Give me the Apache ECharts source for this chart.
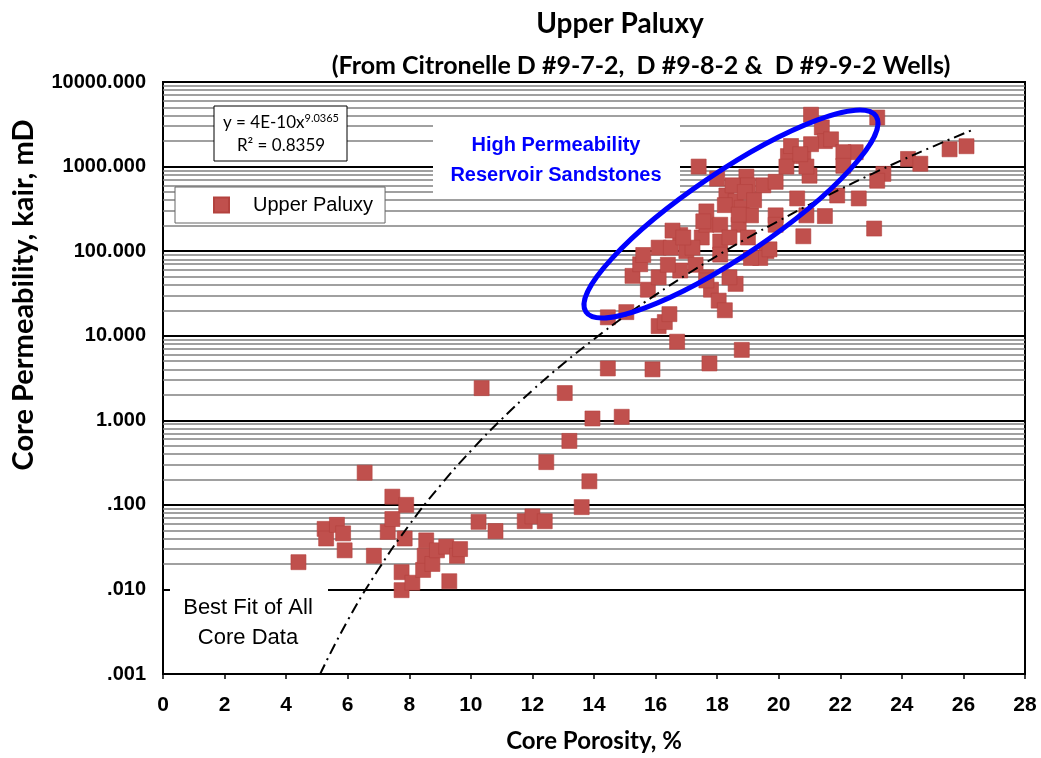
<!DOCTYPE html>
<html>
<head>
<meta charset="utf-8">
<script src="https://cdn.jsdelivr.net/npm/echarts@6/dist/echarts.min.js"></script>
<style>
html,body{margin:0;padding:0;background:#fff;}
#main{width:1041px;height:758px;}
</style>
</head>
<body>
<div id="main"></div>
<script>
// ---- data ----
const porosity = [
  4.4,5.25,5.3,5.65,5.85,5.9,6.55,6.85,7.3,7.45,7.45,7.85,7.9,7.75,7.75,8.1,8.45,8.5,8.55,8.75,
  8.9,9.2,9.3,9.55,9.65,10.25,10.8,11.75,12.0,12.4,13.6,13.85,12.45,13.2,13.95,14.9,10.35,13.05,14.45,15.9,
  17.75,18.8,
  14.45,15.05,16.1,16.3,16.45,16.7,15.25,15.75,15.5,15.6,16.1,16.1,16.8,16.8,17.0,17.5,17.3,17.65,17.8,18.05,
  18.25,17.65,18.1,18.1,18.6,16.55,17.2,16.5,16.4,18.4,17.65,16.9,
  17.4,18.0,18.95,19.0,19.5,19.9,20.3,20.8,20.25,20.6,20.9,20.8,19.9,19.9,18.3,18.6,18.8,17.65,17.55,18.1,
  18.7,19.1,18.4,19.0,19.6,19.4,21.0,21.05,23.2,21.4,21.5,21.05,20.4,21.7,22.5,22.1,22.1,20.9,20.7,24.2,
  24.6,25.55,26.1,23.4,23.2,22.6,21.9,21.5,23.1,19.7,19.1,18.5,18.9,19.2,18.25,18.7
];
const permeability = [
  0.021,0.052,0.040,0.058,0.046,0.029,0.24,0.025,0.048,0.125,0.068,0.040,0.10,0.016,0.0098,0.012,0.017,0.025,0.038,0.020,
  0.029,0.032,0.0125,0.025,0.030,0.063,0.049,0.064,0.073,0.064,0.094,0.19,0.32,0.57,1.05,1.1,2.4,2.1,4.1,4.0,
  4.7,6.8,
  16.5,19,13,14.5,18,8.5,51,35,70,90,110,49,155,59,100,145,69,49,35,26,
  20,205,130,91,41,175,110,110,69,49,45,145,
  1000,720,760,600,600,660,1330,1330,1000,420,265,150,265,205,455,390,325,295,225,205,
  205,265,145,145,100,83,780,4100,3800,2900,2000,1840,1750,2100,1480,1480,1020,1000,1400,1230,
  1080,1600,1740,820,680,420,455,260,185,105,83,600,500,400,350,270
];
// best-fit curve as drawn
const fitX = [5.1,6,7,8,9,10,11,12,13,14,15,16,17,18,19,20,21,22,23,24,25,26.3];
const fitY = [0.00099,0.0043,0.0173,0.058,0.168,0.435,1.03,2.26,4.66,9.1,17.0,30.4,52.6,88,144,228,355,540,808,1190,1720,2720];
const xTicks = [0,2,4,6,8,10,12,14,16,18,20,22,24,26,28];
const yTickLabels = ['.001','.010','.100','1.000','10.000','100.000','1000.000','10000.000'];

const ARIAL = 'Liberation Sans, Arial, sans-serif';
const CAL = 'Lato, Liberation Sans, sans-serif';
const chart = echarts.init(document.getElementById('main'), null, {renderer:'canvas'});

// log grid lines (2..9 per decade minor, decades major)
const minorLines = [], majorLines = [];
for (let e = -3; e <= 3; e++) {
  for (let m = 2; m <= 9; m++) minorLines.push({yAxis: m * Math.pow(10, e)});
  if (e > -3) majorLines.push({yAxis: Math.pow(10, e)});
}

const scatterData = porosity.map((x, i) => [x, permeability[i]]);
const fitData = fitX.map((x, i) => [x, fitY[i]]);

chart.setOption({
  animation: false,
  backgroundColor: '#fff',
  textStyle: {fontFamily: ARIAL},
  title: [
    {text: 'Upper Paluxy', left: 615, top: 5, textAlign: 'center',
     textStyle: {fontFamily: CAL, fontWeight: 'bold', fontSize: 28, color: '#000'}},
    {text: '(From Citronelle D #9-7-2,  D #9-8-2 &  D #9-9-2 Wells)', left: 636, top: 48, textAlign: 'center',
     textStyle: {fontFamily: CAL, fontWeight: 'bold', fontSize: 25, color: '#000'}}
  ],
  legend: {
    data: ['Upper Paluxy'],
    left: 175, top: 187,
    icon: 'rect', itemWidth: 15, itemHeight: 15, itemGap: 10,
    backgroundColor: '#fff', borderColor: '#666', borderWidth: 1,
    padding: [8, 12, 8, 38],
    textStyle: {fontFamily: ARIAL, fontSize: 20, color: '#000', padding: [0, 0, 0, 19]},
    z: 20
  },
  grid: {left: 163, top: 82, width: 862, height: 600, show: true, borderColor: '#000', borderWidth: 2, backgroundColor: 'transparent'},
  xAxis: {
    type: 'value', min: 0, max: 28, interval: 2,
    axisLine: {show: true, lineStyle: {color: '#000', width: 2}},
    axisTick: {show: true, length: 5, inside: false, lineStyle: {color: '#000', width: 1.5}},
    axisLabel: {fontFamily: ARIAL, fontWeight: 'bold', fontSize: 21, color: '#000', margin: 21,
      formatter: v => xTicks.includes(v) ? String(v) : ''},
    splitLine: {show: false},
    name: 'Core Porosity, %', nameLocation: 'middle', nameGap: 55,
    nameTextStyle: {fontFamily: CAL, fontWeight: 'bold', fontSize: 24, color: '#000'}
  },
  yAxis: {
    type: 'log', logBase: 10, min: 0.001, max: 10000, splitNumber: 7,
    axisLine: {show: true, lineStyle: {color: '#000', width: 2}},
    axisTick: {show: false},
    axisLabel: {fontFamily: ARIAL, fontWeight: 'bold', fontSize: 20, color: '#000', margin: 17,
      formatter: v => {
        const k = Math.round(Math.log10(v)) + 3;
        return yTickLabels[k] !== undefined ? yTickLabels[k] : '';
      }},
    splitLine: {show: false}
  },
  series: [
    {
      name: 'grid', type: 'line', data: [], silent: true, z: 1,
      markLine: {silent: true, symbol: 'none', label: {show: false}, animation: false,
        lineStyle: {color: '#808080', width: 1.5, type: 'solid'}, data: minorLines}
    },
    {
      name: 'grid2', type: 'line', data: [], silent: true, z: 1,
      markLine: {silent: true, symbol: 'none', label: {show: false}, animation: false,
        lineStyle: {color: '#000', width: 2.2, type: 'solid'}, data: majorLines}
    },
    {
      name: 'Upper Paluxy', type: 'scatter', data: scatterData, z: 5,
      symbol: 'rect', symbolSize: 15,
      itemStyle: {color: '#c0504d', borderColor: '#b3423e', borderWidth: 0.6, opacity: 1}
    },
    {
      name: 'Best fit', type: 'line', data: fitData, z: 6, smooth: true,
      showSymbol: false, symbol: 'none',
      lineStyle: {color: '#000', width: 2, type: [11, 5, 2, 5]}
    }
  ],
  graphic: [
    // y axis title
    {type: 'text', z: 51, x: 24, y: 295, rotation: Math.PI / 2, style: {
      text: 'Core Permeability, kair, mD', x: 0, y: 0, align: 'center', verticalAlign: 'middle',
      fill: '#000', font: 'bold 29px ' + CAL}},
    // white label boxes that hide the grid
    {type: 'rect', z: 50, shape: {x: 433, y: 118, width: 247, height: 80}, style: {fill: '#fff'}},
    {type: 'text', z: 51, style: {
      text: 'High Permeability\nReservoir Sandstones', x: 556, y: 160, align: 'center', verticalAlign: 'middle',
      fill: '#0000ff', font: 'bold 20px ' + ARIAL, lineHeight: 30}},
    {type: 'rect', z: 50, shape: {x: 170, y: 576, width: 158, height: 76}, style: {fill: '#fff'}},
    {type: 'text', z: 51, style: {
      text: 'Best Fit of All\nCore Data', x: 248, y: 623, align: 'center', verticalAlign: 'middle',
      fill: '#000', font: '22px ' + ARIAL, lineHeight: 30}},
    // equation box
    {type: 'rect', z: 50, shape: {x: 214, y: 106, width: 133, height: 55}, style: {fill: '#fff', stroke: '#000', lineWidth: 1}},
    {type: 'text', z: 51, style: {
      rich: {
        n: {font: '17px ' + CAL, fill: '#000'},
        sup: {font: '11px ' + CAL, fill: '#000', verticalAlign: 'top', padding: [0, 0, 9, 0]}
      },
      text: '{n|y = 4E-10x}{sup|9.0365}', x: 281, y: 123, align: 'center', verticalAlign: 'middle'}},
    {type: 'text', z: 51, style: {
      text: 'R² = 0.8359', x: 281, y: 146, align: 'center', verticalAlign: 'middle',
      fill: '#000', font: '17px ' + CAL}},
    // ellipse around high permeability points
    {type: 'ellipse', z: 60, x: 731, y: 214, rotation: 34 * Math.PI / 180,
      shape: {cx: 0, cy: 0, rx: 175, ry: 42},
      style: {fill: 'none', stroke: '#0000ff', lineWidth: 5}}
  ]
});
</script>
</body>
</html>
